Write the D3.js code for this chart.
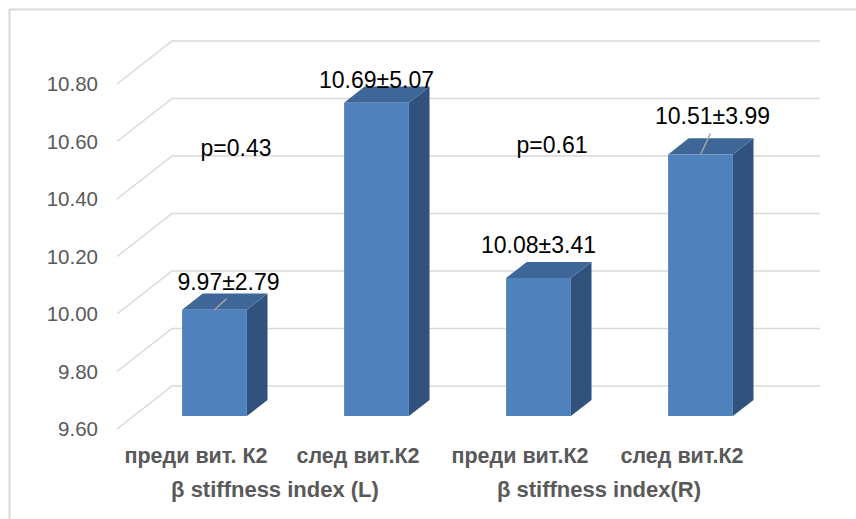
<!DOCTYPE html>
<html>
<head>
<meta charset="utf-8">
<script src="https://cdn.jsdelivr.net/npm/d3@7"></script>
<style>
  html, body { margin: 0; padding: 0; background: #fff; }
  svg { display: block; }
</style>
</head>
<body>
<svg id="chart" width="856" height="519"></svg>
<script>
// Category and group labels
const categories = ["преди вит. К2", "след вит.К2", "преди вит.К2", "след вит.К2"];
const groups = ["β stiffness index (L)", "β stiffness index(R)"];
// Bar values (mean) and their spread
const means = [9.97, 10.69, 10.08, 10.51];
const spreads = [2.79, 5.07, 3.41, 3.99];
// Significance between before/after within each group
const pValues = ["p=0.43", "p=0.61"];
// Value axis ticks
const yTicks = [9.60, 9.80, 10.00, 10.20, 10.40, 10.60, 10.80];

const svg = d3.select("#chart");

// 3D oblique projection: front plane + depth vector to the back wall
const depth = { dx: 55, dy: -43 };
const barT0 = 0.30, barT1 = 0.675;   // bar front / back depth fraction

const y = d3.scaleLinear().domain([9.6, 10.8]).range([429, 84]);
const x = d3.scaleBand().domain(d3.range(categories.length)).range([117, 765]).padding(0);
const barFrac = 0.40;

const proj = (px, v, t) => [px + depth.dx * t, y(v) + depth.dy * t];

// Chart frame
svg.append("rect")
  .attr("x", 9.5).attr("y", 9.5).attr("width", 920).attr("height", 600)
  .attr("fill", "#fff").attr("stroke", "#D9D9D9").attr("stroke-width", 2);

const grid = svg.append("g").attr("stroke", "#D9D9D9").attr("stroke-width", 1.5).attr("fill", "none");
const xLeft = x.range()[0], xRight = x.range()[1];
yTicks.forEach(v => {
  const a = proj(xLeft, v, 0), b = proj(xLeft, v, 1), c = proj(xRight, v, 1);
  grid.append("path").attr("d", `M${a[0]},${a[1]}L${b[0]},${b[1]}L${c[0]},${c[1]}`);
});

// Tick labels
svg.append("g").selectAll("text").data(yTicks).join("text")
  .attr("x", 98).attr("y", d => y(d))
  .attr("dy", "0.35em")
  .attr("text-anchor", "end")
  .attr("font-family", "'Liberation Sans', Arial, sans-serif")
  .attr("font-size", 20.5)
  .attr("fill", "#595959")
  .text(d => d.toFixed(2));

// Bars
const base = y.domain()[0];
const bars = svg.append("g");
means.forEach((v, i) => {
  const bw = x.bandwidth() * barFrac;
  const x0 = x(i) + (x.bandwidth() - bw) / 2, x1 = x0 + bw;
  const pts = arr => "M" + arr.map(p => p.join(",")).join("L") + "Z";
  // side face
  bars.append("path").attr("fill", "#31527D")
    .attr("d", pts([proj(x1, base, barT0), proj(x1, base, barT1), proj(x1, v, barT1), proj(x1, v, barT0)]));
  // top face
  bars.append("path").attr("fill", "#3E6798")
    .attr("d", pts([proj(x0, v, barT0), proj(x1, v, barT0), proj(x1, v, barT1), proj(x0, v, barT1)]));
  // front face
  bars.append("path").attr("fill", "#4F81BD")
    .attr("d", pts([proj(x0, base, barT0), proj(x1, base, barT0), proj(x1, v, barT0), proj(x0, v, barT0)]));
});

// Data labels (mean ± spread); the shifted ones get a leader line
const labelShift = [14, 0, 0, 12];
const labelLift = [20, 15, 25, 30];
const labels = svg.append("g");
means.forEach((v, i) => {
  const cx = x(i) + x.bandwidth() / 2;
  const top = proj(cx, v, barT0);
  const lx = top[0] + labelShift[i], ly = top[1] - labelLift[i];
  if (labelShift[i] !== 0) {
    labels.append("line")
      .attr("x1", top[0]).attr("y1", top[1])
      .attr("x2", lx - 2).attr("y2", ly + 9)
      .attr("stroke", "#A6A6A6").attr("stroke-width", 1.5);
  }
  labels.append("text")
    .attr("x", lx).attr("y", ly)
    .attr("text-anchor", "middle")
    .attr("font-family", "'Liberation Sans', Arial, sans-serif")
    .attr("font-size", 23)
    .attr("fill", "#000")
    .text(`${v.toFixed(2)}±${spreads[i].toFixed(2)}`);
});

// p-values per group
const pShift = [-43, -51], pBase = [156, 153];
pValues.forEach((p, g) => {
  const gc = x(g * 2) + x.bandwidth();
  svg.append("text")
    .attr("x", gc + pShift[g]).attr("y", pBase[g])
    .attr("text-anchor", "middle")
    .attr("font-family", "'Liberation Sans', Arial, sans-serif")
    .attr("font-size", 23)
    .attr("fill", "#000")
    .text(p);
});

// Category labels
svg.append("g").selectAll("text").data(categories).join("text")
  .attr("x", (d, i) => x(i) + x.bandwidth() / 2 - 2)
  .attr("y", 463)
  .attr("text-anchor", "middle")
  .attr("font-family", "'Liberation Sans', Arial, sans-serif")
  .attr("font-weight", "bold")
  .attr("font-size", 21.5)
  .attr("fill", "#595959")
  .text(d => d);

// Group labels
svg.append("g").selectAll("text").data(groups).join("text")
  .attr("x", (d, g) => x(g * 2) + x.bandwidth() - 4)
  .attr("y", 497)
  .attr("text-anchor", "middle")
  .attr("font-family", "'Liberation Sans', Arial, sans-serif")
  .attr("font-weight", "bold")
  .attr("font-size", 22)
  .attr("fill", "#595959")
  .text(d => d);
</script>
</body>
</html>
